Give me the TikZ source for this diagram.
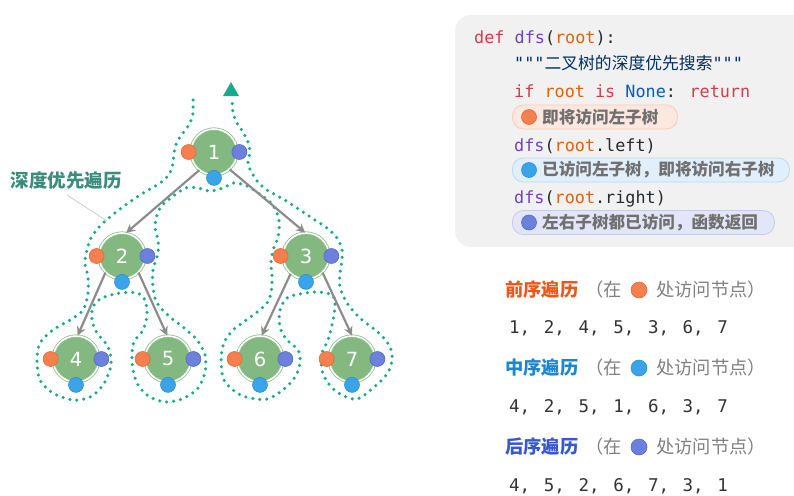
\documentclass[tikz,border=0pt]{standalone}
\usepackage{fontspec}
\setmainfont{DejaVu Sans}
\newfontfamily\cjk{Noto Sans CJK SC}
\newfontfamily\mono{DejaVu Sans Mono}
\usetikzlibrary{arrows.meta}
\definecolor{panelgray}{RGB}{241,241,241}
\definecolor{nodegreen}{RGB}{131,185,128}
\definecolor{ringgreen}{RGB}{140,192,137}
\definecolor{dotteal}{RGB}{26,170,138}
\definecolor{labelteal}{RGB}{58,140,124}
\definecolor{edgegray}{RGB}{140,140,140}
\definecolor{orfill}{RGB}{245,127,79}
\definecolor{ordraw}{RGB}{228,104,58}
\definecolor{blfill}{RGB}{59,163,231}
\definecolor{bldraw}{RGB}{42,144,213}
\definecolor{pufill}{RGB}{108,129,220}
\definecolor{pudraw}{RGB}{85,104,200}
\definecolor{kw}{RGB}{215,58,73}
\definecolor{fn}{RGB}{111,66,193}
\definecolor{arg}{RGB}{227,98,9}
\definecolor{cst}{RGB}{0,92,197}
\definecolor{strc}{RGB}{3,47,98}
\definecolor{plain}{RGB}{36,41,46}
\definecolor{badgetext}{RGB}{112,112,112}
\definecolor{orbg}{RGB}{252,232,223}
\definecolor{orbd}{RGB}{248,204,184}
\definecolor{blbg}{RGB}{224,239,250}
\definecolor{blbd}{RGB}{186,218,242}
\definecolor{pubg}{RGB}{227,230,248}
\definecolor{pubd}{RGB}{196,203,240}
\definecolor{hpre}{RGB}{236,88,28}
\definecolor{hin}{RGB}{30,134,206}
\definecolor{hpost}{RGB}{56,88,208}
\definecolor{hgray}{RGB}{128,128,128}
\definecolor{numc}{RGB}{51,51,51}
\newcommand\itm[1]{\makebox[34.7pt][l]{#1}}
\begin{document}
\begin{tikzpicture}[x=1pt,y=-1pt,
  tnode/.style={circle, fill=nodegreen, draw=ringgreen, double=white, double distance=1.6pt,
    line width=0.8pt, minimum size=46pt, inner sep=0pt, text=white, font=\fontsize{19.5}{20}\selectfont},
  odot/.style={circle, fill=orfill, draw=ordraw, line width=0.6pt, minimum size=15pt, inner sep=0pt},
  bdot/.style={circle, fill=blfill, draw=bldraw, line width=0.6pt, minimum size=15pt, inner sep=0pt},
  pdot/.style={circle, fill=pufill, draw=pudraw, line width=0.6pt, minimum size=15pt, inner sep=0pt},
  edge/.style={draw=edgegray, line width=2.2pt, -{Stealth[length=9pt,width=9pt]}},
  contour/.style={draw=dotteal, line width=3.5pt, line cap=round, dash pattern=on 0pt off 7pt},
  codeline/.style={anchor=base west, inner sep=0pt, font=\mono\fontsize{16.8}{20}\selectfont, text=plain},
  badge/.style={rounded corners=11pt, line width=0.8pt, minimum height=24pt, anchor=west, inner sep=0pt},
  badgetxt/.style={anchor=west, inner sep=0pt, text=badgetext, font=\cjk\bfseries\fontsize{16.6}{18}\selectfont},
  head/.style={anchor=west, inner sep=0pt, font=\cjk\bfseries\fontsize{18.3}{20}\selectfont},
  hnote/.style={anchor=west, inner sep=0pt, text=hgray, font=\cjk\fontsize{18.3}{20}\selectfont},
  nums/.style={anchor=base west, inner sep=0pt, text=numc, font=\mono\fontsize{17.5}{20}\selectfont}
]
\useasboundingbox (0,0) rectangle (794,495);
\clip (0,0) rectangle (794,495);

% ---------- contour ----------
\draw[contour] plot[smooth, tension=0.55] coordinates {
(193,100) (193,113) (190,123) (183,133) (177,142) (174,153) (173,163) (170,173) (160,183)
(140,195) (120,209) (102,224) (91,238) (87,250) (85,263) (88,277) (88,293) (83,310) (70,320)
(53,330) (40,343) (37,360) (40,380) (53,393) (73,400) (90,397) (103,385) (111,365) (108,347)
(97,333) (92,320) (93,307) (102,298) (120,293) (137,293) (145,300) (147,315) (143,330)
(134,342) (132,355) (133,370) (138,385) (150,397) (167,402) (184,398) (198,388) (205,372)
(205,355) (197,340) (183,327) (170,317) (157,303) (153,287) (153,270) (158,253) (158,240)
(155,225) (160,208) (172,197) (186,188) (198,188) (210,191) (223,188) (234,183) (247,186)
(258,193) (272,204) (279,220) (278,237) (273,250) (271,263) (272,277) (271,293) (267,303)
(257,312) (245,321) (233,330) (224,343) (221,360) (224,380) (237,393) (250,398) (267,399)
(283,390) (295,377) (300,363) (298,350) (287,340) (280,327) (280,310) (287,298) (300,294)
(317,292) (332,295) (335,305) (333,320) (328,340) (322,353) (322,370) (328,383) (340,394)
(357,399) (373,388) (387,374) (392,360) (390,347) (380,334) (360,318) (347,303) (340,287)
(340,273) (342,260) (342,250) (337,238) (327,228) (315,220) (300,210) (283,199) (267,190)
(258,182) (252,173) (248,163) (250,152) (248,142) (243,132) (237,123) (233,113) (232,100)};
\fill[dotteal] (223,96) -- (239,96) -- (231,82) -- cycle;

% ---------- label ----------
\node[inner sep=0pt, text=labelteal, font=\cjk\bfseries\fontsize{18.5}{20}\selectfont] (lbl) at (66,180) {深度优先遍历};
\coordinate (lead1) at (67,195);
\coordinate (lead2) at (107,221);
\draw[black!22, line width=0.7pt] (lead1) -- (lead2);

% ---------- tree ----------
\node[tnode] (n1) at (214,152) {1};
\node[tnode] (n2) at (122,256) {2};
\node[tnode] (n3) at (306,256) {3};
\node[tnode] (n4) at (76,359) {4};
\node[tnode] (n5) at (168,359) {5};
\node[tnode] (n6) at (260,359) {6};
\node[tnode] (n7) at (352,359) {7};

\draw[edge] (n1.231) -- (n2.80);
\draw[edge] (n1.-48) -- (n3.92);
\draw[edge] (n2.225) -- (n4.86);
\draw[edge] (n2.-45) -- (n5.92);
\draw[edge] (n3.229) -- (n6.86);
\draw[edge] (n3.-45) -- (n7.90);

\foreach \n in {n1,n2,n3,n4,n5,n6,n7}{
  \node[odot, xshift=-2pt] (\n o) at (\n.west) {};
  \node[pdot, xshift=2pt] (\n p) at (\n.east) {};
  \node[bdot, yshift=-2.5pt] (\n b) at (\n.south) {};
}

% ---------- code panel ----------
\fill[panelgray, rounded corners=16pt] (455,15) rectangle (830,247);
\node[codeline] (c1) at (474,44) {\textcolor{kw}{def} \textcolor{fn}{dfs}(\textcolor{arg}{root}):};
\node[codeline, text=strc] (c2) at (514,69) {"""{\cjk 二叉树的深度优先搜索}"""};
\node[codeline] (c3) at (514,97) {\textcolor{kw}{if} \textcolor{arg}{root} \textcolor{kw}{is} \textcolor{cst}{None}: \textcolor{kw}{return}};
\node[badge, fill=orbg, draw=orbd, minimum width=165pt] (b1) at (512,117) {};
\node[odot] (b1d) at (529,117) {};
\node[badgetxt] (b1t) at (542,117) {即将访问左子树};
\node[codeline] (c5) at (514,151) {\textcolor{fn}{dfs}(\textcolor{arg}{root}.left)};
\node[badge, fill=blbg, draw=blbd, minimum width=277pt] (b2) at (512,170) {};
\node[bdot] (b2d) at (529,170) {};
\node[badgetxt] (b2t) at (542,170) {已访问左子树，即将访问右子树};
\node[codeline] (c7) at (514,203) {\textcolor{fn}{dfs}(\textcolor{arg}{root}.right)};
\node[badge, fill=pubg, draw=pubd, minimum width=262pt] (b3) at (512,222.5) {};
\node[pdot] (b3d) at (529,222.5) {};
\node[badgetxt] (b3t) at (542,222.5) {左右子树都已访问，函数返回};

% ---------- traversal orders ----------
\node[head, text=hpre] (h1) at (505,290) {前序遍历};
\node[hnote] (h1a) at (585,290) {（在};
\node[odot, minimum size=16pt] (h1d) at (639,290) {};
\node[hnote] (h1b) at (656,290) {处访问节点）};
\node[nums] (r1) at (509,333.5) {\itm{1,}\itm{2,}\itm{4,}\itm{5,}\itm{3,}\itm{6,}7};

\node[head, text=hin] (h2) at (505,368) {中序遍历};
\node[hnote] (h2a) at (585,368) {（在};
\node[bdot, minimum size=16pt] (h2d) at (639,368) {};
\node[hnote] (h2b) at (656,368) {处访问节点）};
\node[nums] (r2) at (509,412.5) {\itm{4,}\itm{2,}\itm{5,}\itm{1,}\itm{6,}\itm{3,}7};

\node[head, text=hpost] (h3) at (505,447) {后序遍历};
\node[hnote] (h3a) at (585,447) {（在};
\node[pdot, minimum size=16pt] (h3d) at (639,447) {};
\node[hnote] (h3b) at (656,447) {处访问节点）};
\node[nums] (r3) at (509,491.5) {\itm{4,}\itm{5,}\itm{2,}\itm{6,}\itm{7,}\itm{3,}1};
\end{tikzpicture}
\end{document}
